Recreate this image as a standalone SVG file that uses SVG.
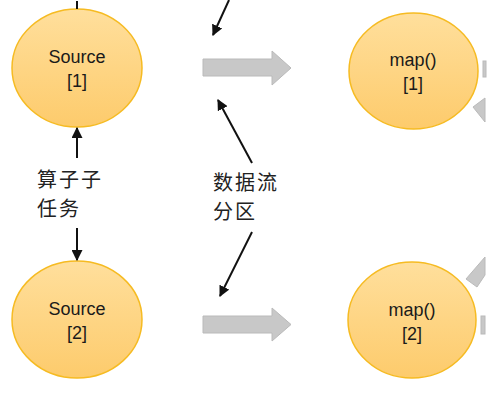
<svg xmlns="http://www.w3.org/2000/svg" width="497" height="403" viewBox="0 0 497 403">
<style>
.node ellipse{fill:url(#og);stroke:#f6bb22;stroke-width:1.5}
.lbl{font-family:"Liberation Sans",Arial,sans-serif;font-size:18px;fill:#1a1a1a;text-anchor:middle}
.cjk{font-family:"Noto Sans CJK SC",sans-serif;font-size:20px;letter-spacing:2px;fill:#222}
.blk{stroke:#111;stroke-width:2;fill:none}
.gray{fill:#c8c8c8;stroke:#bababa;stroke-width:1}
</style>
<defs>
<linearGradient id="og" x1="0" y1="0" x2="0" y2="1">
<stop offset="0" stop-color="#ffdf9c"/>
<stop offset="1" stop-color="#fdcb6c"/>
</linearGradient>
<marker id="ah" viewBox="0 0 10 10" refX="9" refY="5" markerWidth="5.5" markerHeight="5.5" orient="auto" markerUnits="strokeWidth">
<path d="M0,0 L10,5 L0,10 z" fill="#111"/>
</marker>
</defs>
<rect width="497" height="403" fill="#fff"/>
<g id="source1" class="node">
<ellipse cx="77" cy="68" rx="65" ry="59"/>
<text class="lbl" x="77" y="63">Source</text>
<text class="lbl" x="77" y="87">[1]</text>
</g>
<g id="source2" class="node">
<ellipse cx="77" cy="319.5" rx="65" ry="58.5"/>
<text class="lbl" x="77" y="315">Source</text>
<text class="lbl" x="77" y="339">[2]</text>
</g>
<g id="map1" class="node">
<ellipse cx="413.5" cy="71" rx="64.5" ry="58"/>
<text class="lbl" x="413" y="66">map()</text>
<text class="lbl" x="413" y="90">[1]</text>
</g>
<g id="map2" class="node">
<ellipse cx="412" cy="320" rx="64" ry="58"/>
<text class="lbl" x="412" y="316">map()</text>
<text class="lbl" x="412" y="340">[2]</text>
</g>
<g id="label-subtask">
<text class="cjk" x="37" y="187">算子子<tspan x="37" dy="29.2">任务</tspan></text>
</g>
<g id="label-partition">
<text class="cjk" x="213" y="190">数据流<tspan x="213" dy="29.2">分区</tspan></text>
</g>
<g id="connectors">
<path class="gray" d="M203,59 H272 V51 L291,68 L272,85 V76 H203 Z"/>
<path class="gray" d="M203,316 H272 V308 L291,324.5 L272,341 V333 H203 Z"/>
<rect class="gray" x="483" y="61" width="3" height="16"/>
<path class="gray" d="M473,107 L485,98 L485,122 Z"/>
<path class="gray" d="M466,279 L485,257 L485,275 L477,287 Z"/>
<rect class="gray" x="481" y="316" width="4" height="18"/>
<line class="blk" x1="77" y1="1" x2="77" y2="9"/>
<line class="blk" x1="77" y1="158" x2="77" y2="128" marker-end="url(#ah)"/>
<line class="blk" x1="77" y1="228" x2="77" y2="260" marker-end="url(#ah)"/>
<line class="blk" x1="229" y1="0" x2="213" y2="35" marker-end="url(#ah)"/>
<line class="blk" x1="252" y1="163" x2="218" y2="100" marker-end="url(#ah)"/>
<line class="blk" x1="252" y1="232" x2="220" y2="296" marker-end="url(#ah)"/>
</g>
</svg>
